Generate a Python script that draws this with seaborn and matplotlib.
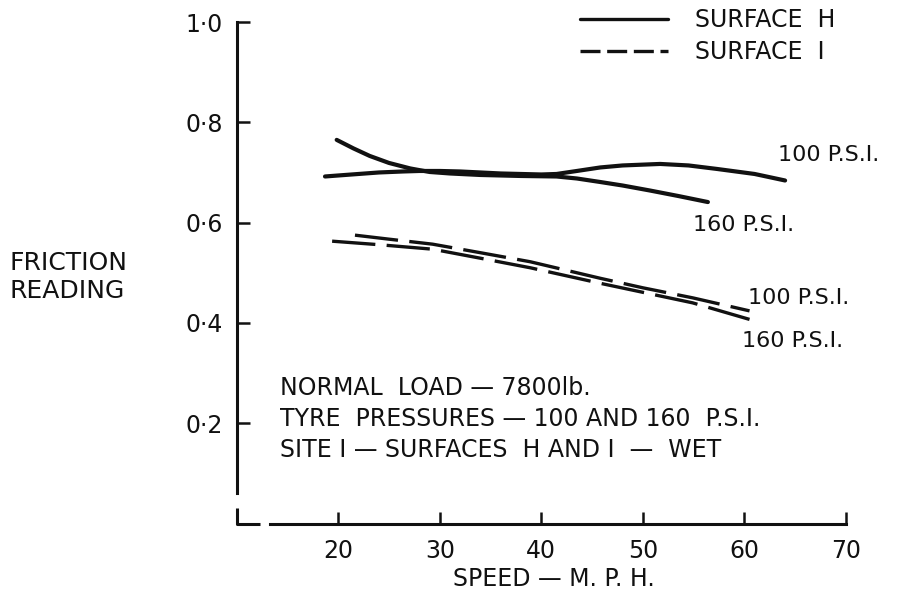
import matplotlib
matplotlib.use("Agg")
import matplotlib.pyplot as plt
from matplotlib.lines import Line2D
import pandas as pd
import seaborn as sns

# Friction readings against speed, site I, wet surfaces
h100_speed = [18.7, 20.0, 22.0, 24.0, 26.4, 28.0, 30.0, 32.0, 34.0, 36.0, 38.0,
              40.0, 41.5, 43.5, 45.8, 48.0, 51.7, 54.5, 57.3, 61.0, 64.0]
h100_fric = [0.692, 0.694, 0.697, 0.700, 0.702, 0.703, 0.703, 0.702, 0.700,
             0.698, 0.697, 0.696, 0.697, 0.703, 0.710, 0.714, 0.717, 0.714,
             0.707, 0.697, 0.684]

h160_speed = [19.85, 21.5, 23.1, 25.0, 27.1, 29.0, 31.0, 34.0, 38.0, 41.5,
              43.5, 45.8, 48.0, 50.7, 53.5, 56.4]
h160_fric = [0.765, 0.748, 0.733, 0.719, 0.708, 0.701, 0.698, 0.695, 0.693,
             0.692, 0.688, 0.681, 0.674, 0.664, 0.653, 0.641]

i100_speed = [21.65, 25.0, 29.3, 34.0, 38.9, 45.8, 50.0, 54.9, 60.5]
i100_fric = [0.575, 0.567, 0.557, 0.540, 0.522, 0.489, 0.470, 0.450, 0.424]

i160_speed = [19.4, 24.0, 29.3, 34.0, 38.9, 45.8, 50.0, 54.9, 60.5]
i160_fric = [0.563, 0.556, 0.547, 0.529, 0.510, 0.479, 0.461, 0.440, 0.407]

x_ticks = [20, 30, 40, 50, 60, 70]
y_ticks = [0.2, 0.4, 0.6, 0.8, 1.0]
y_tick_labels = ["0·2", "0·4", "0·6", "0·8", "1·0"]

curve_labels = ["100 P.S.I.", "160 P.S.I.", "100 P.S.I.", "160 P.S.I."]
note_lines = [
    "NORMAL  LOAD — 7800lb.",
    "TYRE  PRESSURES — 100 AND 160  P.S.I.",
    "SITE I — SURFACES  H AND I  —  WET",
]

frames = []
for spd, fr, surf, pres in [
    (h100_speed, h100_fric, "H", 100),
    (h160_speed, h160_fric, "H", 160),
    (i100_speed, i100_fric, "I", 100),
    (i160_speed, i160_fric, "I", 160),
]:
    frames.append(pd.DataFrame({"speed": spd, "friction": fr,
                                "surface": surf, "pressure": pres}))
data = pd.concat(frames, ignore_index=True)

sns.set_theme(style="white")
plt.rcParams["font.family"] = ["DejaVu Sans"]
FS = 17

fig = plt.figure(figsize=(9.06, 5.89), dpi=100)
ax = fig.add_axes([0.2612, 0.1112, 0.6726, 0.8514])

ink = "#111111"
dash = (0, (13, 3.4))
for (surf, pres), grp in data.groupby(["surface", "pressure"]):
    if surf == "H":
        sns.lineplot(data=grp, x="speed", y="friction", ax=ax, sort=False,
                     estimator=None, color=ink, lw=3.0, legend=False)
    else:
        sns.lineplot(data=grp, x="speed", y="friction", ax=ax, sort=False,
                     estimator=None, color=ink, lw=2.4, linestyle=dash,
                     legend=False)

ax.set_xlim(10, 70)
ax.set_ylim(0, 1.0)

# Axes frame: left and bottom only, with the small corner bracket
for side in ["top", "right"]:
    ax.spines[side].set_visible(False)
for side in ["left", "bottom"]:
    ax.spines[side].set_color(ink)
    ax.spines[side].set_linewidth(2.2)
ax.spines["left"].set_bounds(0.06, 1.0)
ax.spines["bottom"].set_bounds(13.3, 70)
ax.plot([10, 10, 12.3], [0.031, 0, 0], color=ink, lw=2.2, clip_on=False,
        solid_capstyle="butt")

ax.set_xticks(x_ticks)
ax.set_yticks(y_ticks)
ax.set_yticklabels(y_tick_labels)
ax.tick_params(axis="both", direction="in", length=9, width=1.8, color=ink,
               labelsize=FS, labelcolor=ink, bottom=True, left=True)
ax.tick_params(axis="y", pad=10)
ax.tick_params(axis="x", pad=11)
ax.set_xlabel("SPEED — M. P. H.", fontsize=FS, color=ink)
ax.xaxis.set_label_coords(0.521, -0.086)
ax.set_ylabel("")
fig.text(10 / 906, 1 - 277 / 589, "FRICTION\nREADING", fontsize=FS + 1,
         color=ink, ha="left", va="center", linespacing=1.2)

# Curve labels
label_pos = [(63.3, 0.735), (54.9, 0.596), (60.3, 0.450), (59.8, 0.364)]
for (lx, ly), txt in zip(label_pos, curve_labels):
    ax.text(lx, ly, txt, fontsize=FS - 1, color=ink, ha="left", va="center")

# Test conditions
for yy, line in zip([0.271, 0.209, 0.147], note_lines):
    ax.text(14.3, yy, line, fontsize=FS, color=ink, ha="left", va="center")

# Legend
handles = [Line2D([], [], color=ink, lw=2.4),
           Line2D([], [], color=ink, lw=2.4, linestyle=(0, (6, 2)))]
leg = ax.legend(handles, ["SURFACE  H", "SURFACE  I"], loc="upper left",
                bbox_to_anchor=(0.529, 1.070), frameon=False, fontsize=FS,
                handlelength=3.73, handletextpad=1.14, labelspacing=0.33)
for t in leg.get_texts():
    t.set_color(ink)

fig.savefig("out.png", dpi=100, facecolor="white")
